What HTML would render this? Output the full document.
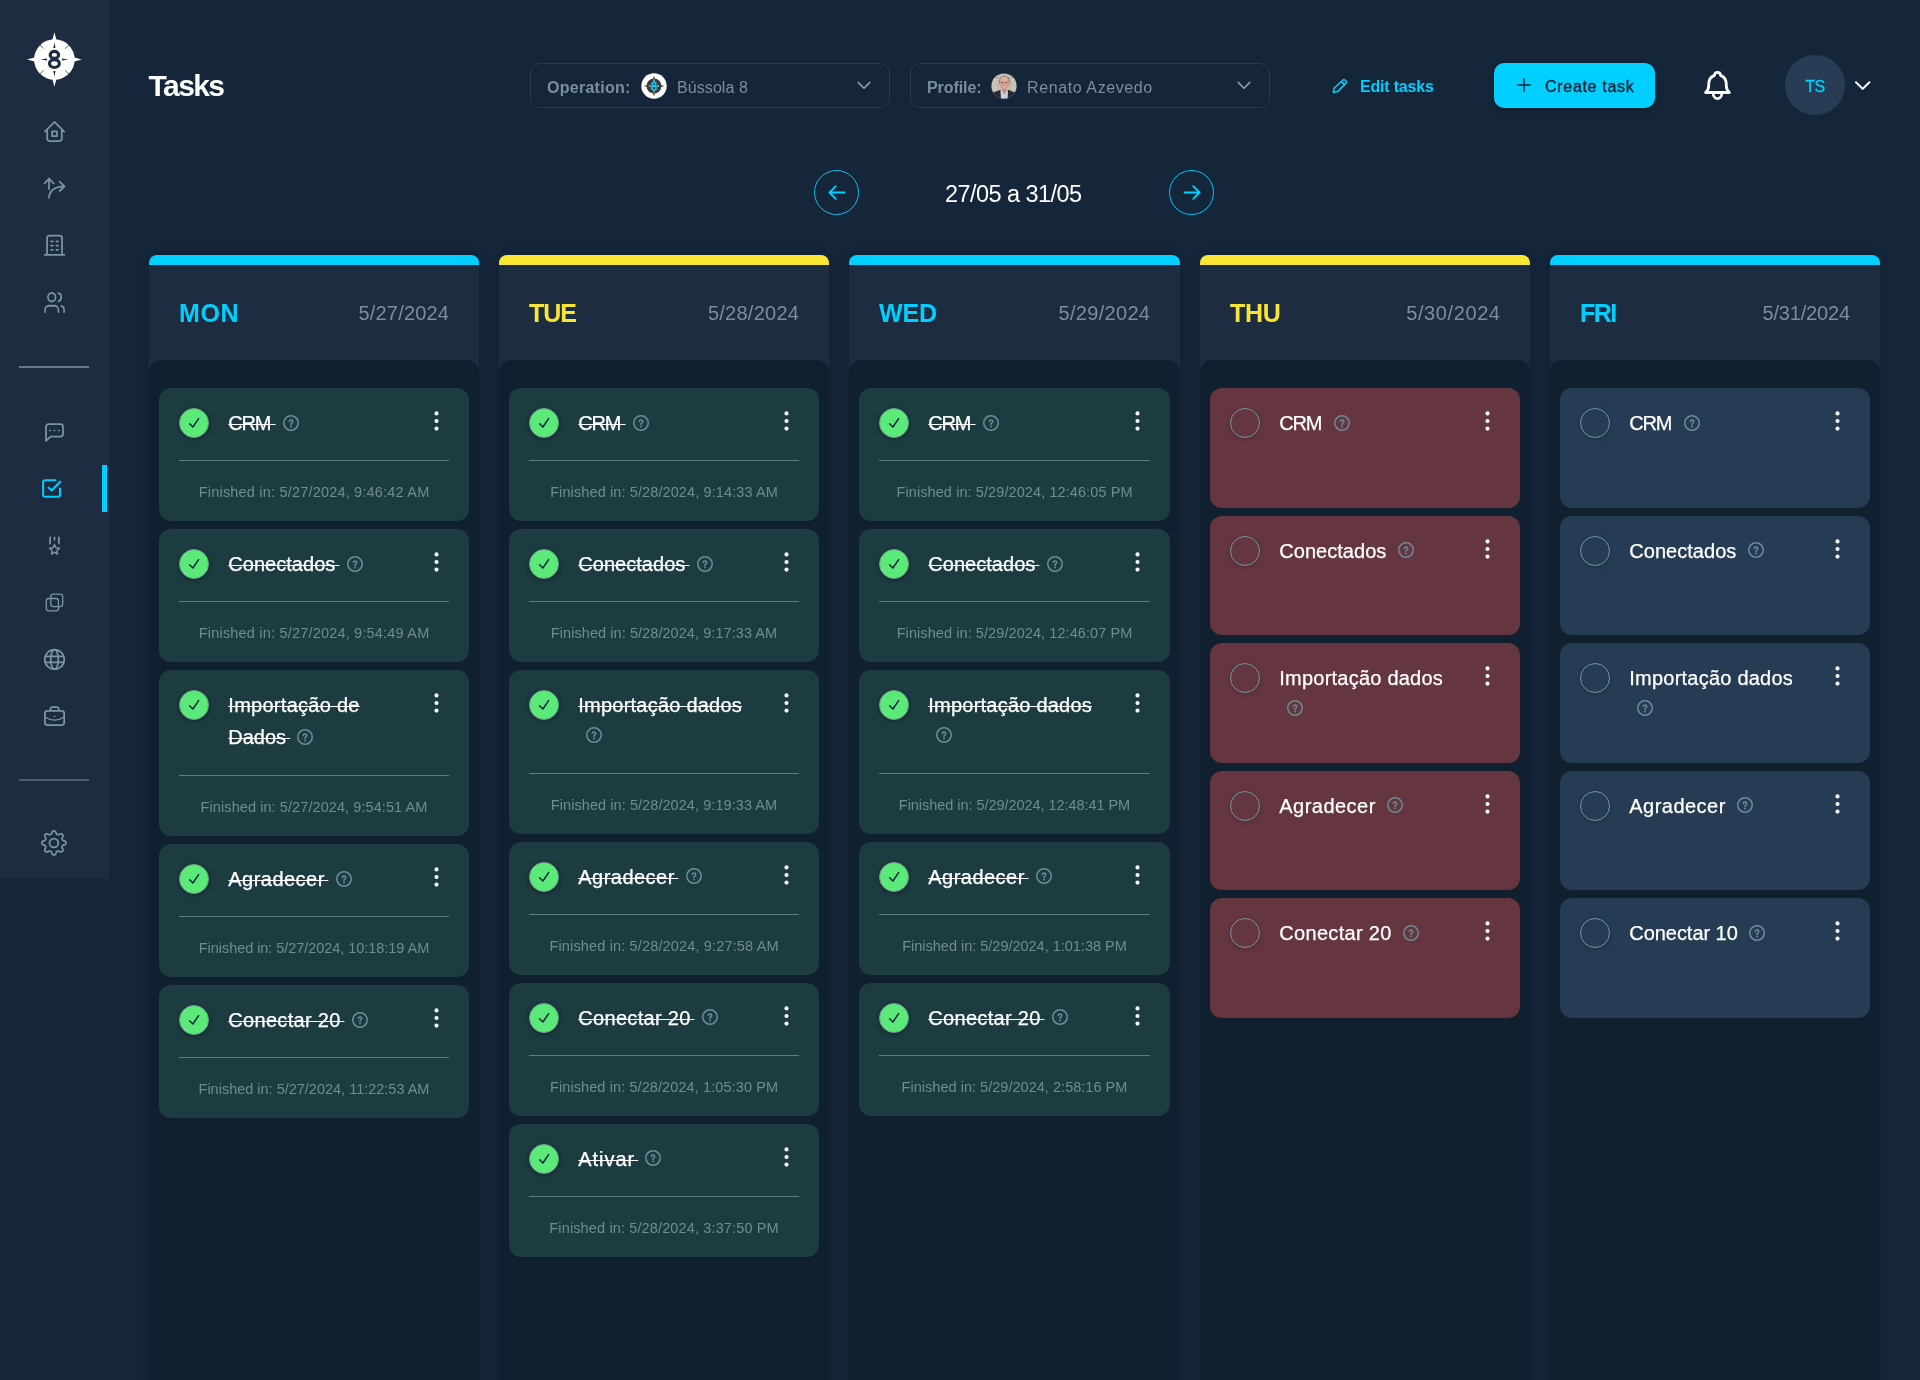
<!DOCTYPE html><html><head><meta charset="utf-8"><title>Tasks</title><style>
*{box-sizing:border-box}
html,body{margin:0;padding:0}
body{width:1920px;height:1380px;overflow:hidden;background:#15253a;font-family:"Liberation Sans",sans-serif;position:relative;color:#fff}
.abs{position:absolute}
.sidebar{position:absolute;left:0;top:0;width:109px;height:879px;background:#1d2c40}
.title{position:absolute;left:148.6px;top:68.5px;font-size:30px;font-weight:700;letter-spacing:-1.6px;line-height:34px;white-space:pre}
.sel{position:absolute;top:63px;height:45px;width:360px;border:1px solid #263a52;border-radius:10px;background:#15263a}
.sel .lab{position:absolute;left:16px;top:13.5px;font-size:16px;line-height:20px;font-weight:700;color:#7a8f9b;white-space:pre}
.sel .val{position:absolute;top:13.5px;font-size:16px;line-height:20px;color:#7a8f9b;white-space:pre}
.cols{position:absolute;left:0;top:255px;width:1920px;height:1140px}
.col{position:absolute;top:0;height:1140px;background:#1d2c40;border-radius:8px 8px 0 0;box-shadow:0 0 10px rgba(0,0,0,.16)}
.bar{height:10px;border-radius:8px 8px 0 0}
.day{position:absolute;left:30px;top:44px;font-size:25px;line-height:28px;font-weight:700;white-space:pre}
.date{position:absolute;right:30px;top:46px;font-size:20px;line-height:24px;color:#7a8f9b;white-space:pre}
.cbody{position:absolute;left:0;right:0;top:105px;bottom:0;background:#10202e;border-radius:12px 12px 0 0;padding:28px 10px 0 10px}
.card{position:relative;border-radius:12px;margin-bottom:8px}
.card.g{background:#1c3c41} .card.r{background:#663640} .card.b{background:#263c54}
.chk{position:absolute;left:20px;top:20px;width:30px;height:30px;border-radius:50%}
.chk.on{background:#5bea7a;border:1px solid #6e9a8a;box-shadow:0 1px 4px rgba(0,0,0,.35)}
.chk.off{border:1px solid #6d97a3;box-shadow:0 1px 4px rgba(0,0,0,.25)}
.tt{position:absolute;left:69.3px;top:19px;width:190px;font-size:20px;line-height:32px;white-space:pre;-webkit-text-stroke:.25px #fff}
.tt s{text-decoration-thickness:1.25px}
.hp{display:inline-block;vertical-align:middle;width:16px;height:16px;position:relative;top:-2px}
.dots{position:absolute;right:28px;top:22px;width:9px;height:22px}
.dv{position:absolute;left:20px;right:20px;height:1px;background:#5f7e84}
.fin{position:absolute;left:0;right:0;text-align:center;font-size:14.5px;line-height:18px;color:#6f8c91;white-space:pre}
</style></head><body><div id="root" style="position:absolute;left:0;top:0;width:1920px;height:1380px;will-change:transform"><div class="sidebar"></div><svg class="abs" style="left:0;top:0" width="109" height="879" viewBox="0 0 109 879" fill="none" stroke="#7a96a0" stroke-width="1.75" stroke-linecap="round" stroke-linejoin="round"><g stroke="none" fill="#fff"><circle cx="54.4" cy="59.5" r="20.3"/><path d="M54.4 32.3 L56.6 40.5 L52.199999999999996 40.5Z M54.4 86.7 L56.6 78.5 L52.199999999999996 78.5Z M27.0 59.5 L35.4 57.3 L35.4 61.7Z M81.8 59.5 L73.4 57.3 L73.4 61.7Z"/></g><g stroke="none" fill="#1d2c40"><path d="M54.4 42.5 L55.5 48.0 L53.3 48.0Z M54.4 76.5 L55.5 71.0 L53.3 71.0Z M40.4 59.5 L46.9 58.4 L46.9 60.6Z M68.4 59.5 L61.9 58.4 L61.9 60.6Z"/></g><g stroke="#1d2c40" stroke-width="0.75"><path d="M65.6 70.7 L69.0 74.1"/><path d="M65.6 48.3 L69.0 44.9"/><path d="M43.2 70.7 L39.8 74.1"/><path d="M43.2 48.3 L39.8 44.9"/></g><g stroke="#1d2c40" stroke-width="3.2" fill="none"><ellipse cx="54.4" cy="54.9" rx="4.2" ry="3.5"/><ellipse cx="54.4" cy="63.6" rx="4.9" ry="3.9"/></g><path d="M44.8 131.6 L54.5 121.9 L64.2 131.6 M47.2 130 V138.6 a2.4 2.4 0 0 0 2.4 2.4 H59.4 a2.4 2.4 0 0 0 2.4 -2.4 V130"/><rect x="52.1" y="131.4" width="4.8" height="4.8"/><path d="M49 189 V178.6 M44.6 183.3 L49 178.6 L53.6 183.3"/><path d="M49 197.8 C49.4 191.5 54 186.6 64.3 186.3 M59.6 181.6 L64.5 186.3 L59.6 191"/><path d="M47.1 254.6 V238 a2.4 2.4 0 0 1 2.4 -2.4 H59.6 a2.4 2.4 0 0 1 2.4 2.4 V254.6 M44.6 254.8 H64.5"/><path d="M51.1 241.3 H52.8 M56.3 241.3 H58"/><path d="M51.1 245.6 H52.8 M56.3 245.6 H58"/><path d="M51.1 249.8 H52.8 M56.3 249.8 H58"/><g transform="translate(43.2 289.8) scale(0.95 1.06)"><path d="M16 21v-2a4 4 0 0 0-4-4H6a4 4 0 0 0-4 4v2"/><circle cx="9" cy="7" r="4"/><path d="M22 21v-2a4 4 0 0 0-3-3.87"/><path d="M16 3.13a4 4 0 0 1 0 7.75"/></g><path d="M19 367 H89" stroke="#7a96a0" stroke-width="1.6" stroke-linecap="butt"/><path d="M46 440.8 V426.6 a2.6 2.6 0 0 1 2.6 -2.6 H60.4 a2.6 2.6 0 0 1 2.6 2.6 V434 a2.6 2.6 0 0 1 -2.6 2.6 H50.6 Z"/><path d="M49.9 430.5 H50.3 M54.3 430.5 H54.7 M58.7 430.5 H59.1" stroke-width="1.7"/><g stroke="#00cfff" stroke-width="2"><path d="M60 488.6 V494.8 a2 2 0 0 1 -2 2 H45.1 a2 2 0 0 1 -2 -2 V482.2 a2 2 0 0 1 2 -2 H55.4"/><path d="M48.7 487.6 L51.6 490.5 L60.2 481.8"/></g><rect x="102" y="465" width="5" height="47" fill="#00cfff" stroke="none"/><path d="M50.1 537.3 V543.6 M54.5 537.3 V539.8 M58.9 537.3 V543.6"/><path d="M54.50 544.50 L55.97 547.78 L59.54 548.16 L56.88 550.57 L57.62 554.09 L54.50 552.30 L51.38 554.09 L52.12 550.57 L49.46 548.16 L53.03 547.78Z" stroke-width="1.4"/><rect x="50.8" y="594.2" width="11.9" height="12.4" rx="2.6" stroke-width="1.3"/><rect x="46.3" y="598.5" width="12.2" height="12.3" rx="2.6" stroke-width="1.3"/><circle cx="54.5" cy="659.4" r="9.75"/><ellipse cx="54.5" cy="659.4" rx="3.8" ry="9.75"/><path d="M45.4 656.4 H63.6 M45.4 662.4 H63.6"/><rect x="44.9" y="710.8" width="19.3" height="14.4" rx="2.6"/><path d="M50.4 710.6 V709.2 a2.2 2.2 0 0 1 2.2 -2.2 H56.6 a2.2 2.2 0 0 1 2.2 2.2 V710.6"/><path d="M45.2 717.2 C51 720.8 58 720.8 63.9 717.2" stroke-width="1.3"/><path d="M54.3 716.5 H54.7" stroke-width="1.6"/><path d="M19 780 H89" stroke="#7a96a0" stroke-width="1" stroke-linecap="butt"/><path d="M65.90 842.90 L65.85 843.37 L65.68 843.83 L65.41 844.26 L65.00 844.66 L64.20 844.95 L63.39 845.18 L62.96 845.45 L62.63 845.74 L62.39 846.03 L62.21 846.34 L62.11 846.69 L62.08 847.07 L62.11 847.50 L62.22 848.00 L62.63 848.73 L62.99 849.51 L63.00 850.08 L62.89 850.58 L62.68 851.02 L62.39 851.39 L62.02 851.68 L61.58 851.89 L61.08 852.00 L60.51 851.99 L59.73 851.63 L59.00 851.22 L58.50 851.11 L58.07 851.08 L57.69 851.11 L57.34 851.21 L57.03 851.39 L56.74 851.63 L56.45 851.96 L56.18 852.39 L55.95 853.20 L55.66 854.00 L55.26 854.41 L54.83 854.68 L54.37 854.85 L53.90 854.90 L53.43 854.85 L52.97 854.68 L52.54 854.41 L52.14 854.00 L51.85 853.20 L51.62 852.39 L51.35 851.96 L51.06 851.63 L50.77 851.39 L50.46 851.21 L50.11 851.11 L49.73 851.08 L49.30 851.11 L48.80 851.22 L48.07 851.63 L47.29 851.99 L46.72 852.00 L46.22 851.89 L45.78 851.68 L45.41 851.39 L45.12 851.02 L44.91 850.58 L44.80 850.08 L44.81 849.51 L45.17 848.73 L45.58 848.00 L45.69 847.50 L45.72 847.07 L45.69 846.69 L45.59 846.34 L45.41 846.03 L45.17 845.74 L44.84 845.45 L44.41 845.18 L43.60 844.95 L42.80 844.66 L42.39 844.26 L42.12 843.83 L41.95 843.37 L41.90 842.90 L41.95 842.43 L42.12 841.97 L42.39 841.54 L42.80 841.14 L43.60 840.85 L44.41 840.62 L44.84 840.35 L45.17 840.06 L45.41 839.77 L45.59 839.46 L45.69 839.11 L45.72 838.73 L45.69 838.30 L45.58 837.80 L45.17 837.07 L44.81 836.29 L44.80 835.72 L44.91 835.22 L45.12 834.78 L45.41 834.41 L45.78 834.12 L46.22 833.91 L46.72 833.80 L47.29 833.81 L48.07 834.17 L48.80 834.58 L49.30 834.69 L49.73 834.72 L50.11 834.69 L50.46 834.59 L50.77 834.41 L51.06 834.17 L51.35 833.84 L51.62 833.41 L51.85 832.60 L52.14 831.80 L52.54 831.39 L52.97 831.12 L53.43 830.95 L53.90 830.90 L54.37 830.95 L54.83 831.12 L55.26 831.39 L55.66 831.80 L55.95 832.60 L56.18 833.41 L56.45 833.84 L56.74 834.17 L57.03 834.41 L57.34 834.59 L57.69 834.69 L58.07 834.72 L58.50 834.69 L59.00 834.58 L59.73 834.17 L60.51 833.81 L61.08 833.80 L61.58 833.91 L62.02 834.12 L62.39 834.41 L62.68 834.78 L62.89 835.22 L63.00 835.72 L62.99 836.29 L62.63 837.07 L62.22 837.80 L62.11 838.30 L62.08 838.73 L62.11 839.11 L62.21 839.46 L62.39 839.77 L62.63 840.06 L62.96 840.35 L63.39 840.62 L64.20 840.85 L65.00 841.14 L65.41 841.54 L65.68 841.97 L65.85 842.43Z"/><circle cx="53.9" cy="842.9" r="4.4"/></svg><div class="title">Tasks</div><div class="sel" style="left:530px"><div class="lab" style="letter-spacing:.27px">Operation:</div>
<svg class="abs" style="left:109.6px;top:8.9px" width="26" height="26" viewBox="0 0 26 26"><circle cx="13" cy="13" r="12.7" fill="#fff"/><path d="M13 2.4 L14.1 6.5 H11.9Z M13 23.6 L14.1 19.5 H11.9Z M2.4 13 L6.5 11.9 V14.1Z M23.6 13 L19.5 11.9 V14.1Z" fill="#3b3b3b"/><circle cx="13" cy="13" r="7.5" fill="#3b3b3b"/><path d="M13 6.8 V8.4 M13 17.6 V19.2 M8.2 13 H10 M16 13 H17.8" stroke="#e8dcd8" stroke-width="1" stroke-linecap="round"/><g fill="none" stroke="#00cfff" stroke-width="1.5"><ellipse cx="13" cy="11" rx="1.9" ry="1.75"/><ellipse cx="13" cy="14.9" rx="2.15" ry="1.95"/></g></svg>
<div class="val" style="left:146px;letter-spacing:.08px">Bússola 8</div>
<svg class="abs" style="left:326px;top:17px" width="14" height="9" viewBox="0 0 14 9" fill="none" stroke="#8ea2ad" stroke-width="1.5" stroke-linecap="round" stroke-linejoin="round"><path d="M1.2 1.4 L7 7.2 L12.8 1.4"/></svg></div><div class="sel" style="left:910px"><div class="lab" style="letter-spacing:-.08px">Profile:</div>
<svg class="abs" style="left:79.5px;top:9px" width="26" height="26" viewBox="0 0 26 26"><defs><clipPath id="av"><circle cx="13" cy="13" r="12.6"/></clipPath></defs><g clip-path="url(#av)"><rect width="26" height="26" fill="#c7c3b5"/><rect x="0" y="4.4" width="26" height="1.2" fill="#a99a86"/><rect x="0" y="5.6" width="26" height="1" fill="#d4d0c4"/><rect x="6.6" y="6.6" width="1" height="14" fill="#b5b1a3"/><rect x="19" y="6.6" width="1" height="14" fill="#b5b1a3"/><ellipse cx="13.4" cy="8.6" rx="5.5" ry="6" fill="#8f8c88"/><ellipse cx="13.3" cy="10.9" rx="4.75" ry="6.5" fill="#d7a08d"/><ellipse cx="13.2" cy="6.2" rx="3.5" ry="2.4" fill="#e1b09d"/><ellipse cx="11.2" cy="9.5" rx="1.4" ry=".7" fill="#6b4038" opacity=".65"/><ellipse cx="15.2" cy="9.5" rx="1.4" ry=".7" fill="#6b4038" opacity=".65"/><path d="M11.6 13.2 Q13.4 14.6 15.2 13.2 Q13.4 13.7 11.6 13.2Z" fill="#f6ecea"/><path d="M0 26 L2.2 19.6 L9 17 L17.6 17 L24 19.6 L26 26Z" fill="#2a2933"/><path d="M9.4 17.2 L17 17.2 L16.6 26 L10 26Z" fill="#c8d2e1"/><path d="M11.3 16.4 L15.4 16.4 L14 21.6 L13 21.6Z" fill="#c4866f"/></g></svg>
<div class="val" style="left:116px;letter-spacing:.6px">Renato Azevedo</div>
<svg class="abs" style="left:326px;top:17px" width="14" height="9" viewBox="0 0 14 9" fill="none" stroke="#8ea2ad" stroke-width="1.5" stroke-linecap="round" stroke-linejoin="round"><path d="M1.2 1.4 L7 7.2 L12.8 1.4"/></svg></div><svg class="abs" style="left:1330px;top:75.5px" width="20" height="20" viewBox="0 0 20 20" fill="none" stroke="#00cfff" stroke-width="1.5" stroke-linecap="round" stroke-linejoin="round"><path d="M12.6 4.2 a1.9 1.9 0 0 1 2.7 0 l.5 .5 a1.9 1.9 0 0 1 0 2.7 L7.6 15.6 L3.3 16.4 L4.1 12.2 Z M11.3 5.6 L14.3 8.6"/></svg>
<div class="abs" style="left:1360px;top:77px;font-size:16px;line-height:20px;font-weight:700;color:#00cfff;letter-spacing:-.2px;white-space:pre">Edit tasks</div><div class="abs" style="left:1494px;top:63px;width:161px;height:45px;border-radius:10px;background:#00cfff;box-shadow:0 2px 6px rgba(0,0,0,.25)"></div>
<svg class="abs" style="left:1516px;top:77px" width="16" height="16" viewBox="0 0 16 16" fill="none" stroke="#15243a" stroke-width="1.5" stroke-linecap="round"><path d="M8 1.8 V14.2 M1.8 8 H14.2"/></svg>
<div class="abs" style="left:1545px;top:77px;font-size:16px;line-height:20px;color:#15243a;letter-spacing:.7px;white-space:pre;-webkit-text-stroke:.35px #15243a">Create task</div><svg class="abs" style="left:1697px;top:65px" width="40" height="40" viewBox="0 0 40 40" fill="none" stroke="#fff" stroke-width="2.8" stroke-linecap="round" stroke-linejoin="round"><path d="M8.6 27.5 H32.4 C30.4 25.7 29.3 24.4 29.3 21 V19.5 C29.3 14.8 27.3 11.8 23.6 10.4 C23.4 8.7 22.1 7.4 20.5 7.4 C18.9 7.4 17.6 8.7 17.4 10.4 C13.7 11.8 11.7 14.8 11.7 19.5 V21 C11.7 24.4 10.6 25.7 8.6 27.5 Z"/><path d="M16.2 28.6 a4.3 5.1 0 0 0 8.6 0" stroke-width="2.7"/></svg><div class="abs" style="left:1785px;top:55px;width:60px;height:60px;border-radius:50%;background:#293c55"></div>
<div class="abs" style="left:1785px;top:77px;width:60px;text-align:center;font-size:16px;line-height:20px;color:#00cfff;letter-spacing:-.4px;-webkit-text-stroke:.3px #00cfff">TS</div>
<svg class="abs" style="left:1853px;top:79px" width="20" height="13" viewBox="0 0 20 13" fill="none" stroke="#fff" stroke-width="2" stroke-linecap="round" stroke-linejoin="round"><path d="M3 3.2 L9.7 9.9 L16.4 3.2"/></svg><div class="abs" style="left:814px;top:169.6px;width:45.4px;height:45.4px;border-radius:50%;border:1.5px solid #00c4f4"></div><svg class="abs" style="left:826.7px;top:181px" width="20" height="23" viewBox="0 0 20 23" fill="none" stroke="#00cfff" stroke-width="1.8" stroke-linecap="round" stroke-linejoin="round"><path d="M17.5 11.5 H2.6 M8.8 5.2 L2.4 11.5 L8.8 17.8"/></svg><div class="abs" style="left:1169px;top:169.6px;width:45.4px;height:45.4px;border-radius:50%;border:1.5px solid #00c4f4"></div><svg class="abs" style="left:1181.7px;top:181px" width="20" height="23" viewBox="0 0 20 23" fill="none" stroke="#00cfff" stroke-width="1.8" stroke-linecap="round" stroke-linejoin="round"><path d="M2.5 11.5 H17.4 M11.2 5.2 L17.6 11.5 L11.2 17.8"/></svg><div class="abs" style="left:945px;top:180px;font-size:23.5px;line-height:28px;letter-spacing:-.55px;white-space:pre">27/05 a 31/05</div><div class="cols"><div class="col" style="left:149px;width:330px"><div class="bar" style="background:#00cfff"></div><div class="day" style="color:#00cfff;letter-spacing:0.573px">MON</div><div class="date" style="letter-spacing:0.189px;margin-right:-0.189px">5/27/2024</div><div class="cbody"><div class="card g" style="height:133px"><div class="chk on"><svg class="abs" style="left:0;top:0" width="28" height="28" viewBox="0 0 28 28" fill="none" stroke="#13233a" stroke-width="1.5" stroke-linecap="round" stroke-linejoin="round"><path d="M9.6 14.8 L12.9 18 L18.6 9.6"/></svg></div><div class="tt"><s style="letter-spacing:-1.173px">CRM<span style="letter-spacing:-0.327px"> </span></s><span style="display:inline-block;width:7.2px"></span><svg class="hp" viewBox="0 0 16 16" fill="none" stroke="#6c8e96" stroke-width="1.5" stroke-linecap="round" stroke-linejoin="round"><circle cx="8" cy="8" r="7.25"/><path d="M6.3 6.5 C6.3 5.4 7.2 4.9 8.05 4.9 C9 4.9 9.75 5.5 9.75 6.4 C9.75 7.8 8 7.9 8 9.6" stroke-width="1.45"/><path d="M8 11.5 v.05" stroke-width="1.8"/></svg></div><svg class="dots" viewBox="0 0 9 22"><circle cx="4.5" cy="3.4" r="2.05" fill="#fff"/><circle cx="4.5" cy="11" r="2.05" fill="#fff"/><circle cx="4.5" cy="18.6" r="2.05" fill="#fff"/></svg><div class="dv" style="top:72px"></div><div class="fin" style="top:95.1px;letter-spacing:0.193px;padding-left:0.193px">Finished in: 5/27/2024, 9:46:42 AM</div></div><div class="card g" style="height:133px"><div class="chk on"><svg class="abs" style="left:0;top:0" width="28" height="28" viewBox="0 0 28 28" fill="none" stroke="#13233a" stroke-width="1.5" stroke-linecap="round" stroke-linejoin="round"><path d="M9.6 14.8 L12.9 18 L18.6 9.6"/></svg></div><div class="tt"><s style="letter-spacing:0.028px">Conectados<span style="letter-spacing:-1.528px"> </span></s><span style="display:inline-block;width:7.2px"></span><svg class="hp" viewBox="0 0 16 16" fill="none" stroke="#6c8e96" stroke-width="1.5" stroke-linecap="round" stroke-linejoin="round"><circle cx="8" cy="8" r="7.25"/><path d="M6.3 6.5 C6.3 5.4 7.2 4.9 8.05 4.9 C9 4.9 9.75 5.5 9.75 6.4 C9.75 7.8 8 7.9 8 9.6" stroke-width="1.45"/><path d="M8 11.5 v.05" stroke-width="1.8"/></svg></div><svg class="dots" viewBox="0 0 9 22"><circle cx="4.5" cy="3.4" r="2.05" fill="#fff"/><circle cx="4.5" cy="11" r="2.05" fill="#fff"/><circle cx="4.5" cy="18.6" r="2.05" fill="#fff"/></svg><div class="dv" style="top:72px"></div><div class="fin" style="top:95.1px;letter-spacing:0.193px;padding-left:0.193px">Finished in: 5/27/2024, 9:54:49 AM</div></div><div class="card g" style="height:166px"><div class="chk on"><svg class="abs" style="left:0;top:0" width="28" height="28" viewBox="0 0 28 28" fill="none" stroke="#13233a" stroke-width="1.5" stroke-linecap="round" stroke-linejoin="round"><path d="M9.6 14.8 L12.9 18 L18.6 9.6"/></svg></div><div class="tt"><s style="letter-spacing:0.278px">Importação de</s><br><s>Dados<span style="letter-spacing:-1.5px"> </span></s><span style="display:inline-block;width:7.2px"></span><svg class="hp" viewBox="0 0 16 16" fill="none" stroke="#6c8e96" stroke-width="1.5" stroke-linecap="round" stroke-linejoin="round"><circle cx="8" cy="8" r="7.25"/><path d="M6.3 6.5 C6.3 5.4 7.2 4.9 8.05 4.9 C9 4.9 9.75 5.5 9.75 6.4 C9.75 7.8 8 7.9 8 9.6" stroke-width="1.45"/><path d="M8 11.5 v.05" stroke-width="1.8"/></svg></div><svg class="dots" viewBox="0 0 9 22"><circle cx="4.5" cy="3.4" r="2.05" fill="#fff"/><circle cx="4.5" cy="11" r="2.05" fill="#fff"/><circle cx="4.5" cy="18.6" r="2.05" fill="#fff"/></svg><div class="dv" style="top:105.3px"></div><div class="fin" style="top:128.1px;letter-spacing:0.081px;padding-left:0.081px">Finished in: 5/27/2024, 9:54:51 AM</div></div><div class="card g" style="height:133px"><div class="chk on"><svg class="abs" style="left:0;top:0" width="28" height="28" viewBox="0 0 28 28" fill="none" stroke="#13233a" stroke-width="1.5" stroke-linecap="round" stroke-linejoin="round"><path d="M9.6 14.8 L12.9 18 L18.6 9.6"/></svg></div><div class="tt"><s style="letter-spacing:0.465px">Agradecer<span style="letter-spacing:-1.965px"> </span></s><span style="display:inline-block;width:7.2px"></span><svg class="hp" viewBox="0 0 16 16" fill="none" stroke="#6c8e96" stroke-width="1.5" stroke-linecap="round" stroke-linejoin="round"><circle cx="8" cy="8" r="7.25"/><path d="M6.3 6.5 C6.3 5.4 7.2 4.9 8.05 4.9 C9 4.9 9.75 5.5 9.75 6.4 C9.75 7.8 8 7.9 8 9.6" stroke-width="1.45"/><path d="M8 11.5 v.05" stroke-width="1.8"/></svg></div><svg class="dots" viewBox="0 0 9 22"><circle cx="4.5" cy="3.4" r="2.05" fill="#fff"/><circle cx="4.5" cy="11" r="2.05" fill="#fff"/><circle cx="4.5" cy="18.6" r="2.05" fill="#fff"/></svg><div class="dv" style="top:72px"></div><div class="fin" style="top:95.1px;letter-spacing:-0.05px;padding-left:0px">Finished in: 5/27/2024, 10:18:19 AM</div></div><div class="card g" style="height:133px"><div class="chk on"><svg class="abs" style="left:0;top:0" width="28" height="28" viewBox="0 0 28 28" fill="none" stroke="#13233a" stroke-width="1.5" stroke-linecap="round" stroke-linejoin="round"><path d="M9.6 14.8 L12.9 18 L18.6 9.6"/></svg></div><div class="tt"><s style="letter-spacing:0.313px">Conectar 20<span style="letter-spacing:-1.813px"> </span></s><span style="display:inline-block;width:7.2px"></span><svg class="hp" viewBox="0 0 16 16" fill="none" stroke="#6c8e96" stroke-width="1.5" stroke-linecap="round" stroke-linejoin="round"><circle cx="8" cy="8" r="7.25"/><path d="M6.3 6.5 C6.3 5.4 7.2 4.9 8.05 4.9 C9 4.9 9.75 5.5 9.75 6.4 C9.75 7.8 8 7.9 8 9.6" stroke-width="1.45"/><path d="M8 11.5 v.05" stroke-width="1.8"/></svg></div><svg class="dots" viewBox="0 0 9 22"><circle cx="4.5" cy="3.4" r="2.05" fill="#fff"/><circle cx="4.5" cy="11" r="2.05" fill="#fff"/><circle cx="4.5" cy="18.6" r="2.05" fill="#fff"/></svg><div class="dv" style="top:72px"></div><div class="fin" style="top:95.1px;letter-spacing:-0.006px;padding-left:0px">Finished in: 5/27/2024, 11:22:53 AM</div></div></div></div><div class="col" style="left:499px;width:330px"><div class="bar" style="background:#f9e634"></div><div class="day" style="color:#f9e634;letter-spacing:-1.062px">TUE</div><div class="date" style="letter-spacing:0.264px;margin-right:-0.264px">5/28/2024</div><div class="cbody"><div class="card g" style="height:133px"><div class="chk on"><svg class="abs" style="left:0;top:0" width="28" height="28" viewBox="0 0 28 28" fill="none" stroke="#13233a" stroke-width="1.5" stroke-linecap="round" stroke-linejoin="round"><path d="M9.6 14.8 L12.9 18 L18.6 9.6"/></svg></div><div class="tt"><s style="letter-spacing:-1.173px">CRM<span style="letter-spacing:-0.327px"> </span></s><span style="display:inline-block;width:7.2px"></span><svg class="hp" viewBox="0 0 16 16" fill="none" stroke="#6c8e96" stroke-width="1.5" stroke-linecap="round" stroke-linejoin="round"><circle cx="8" cy="8" r="7.25"/><path d="M6.3 6.5 C6.3 5.4 7.2 4.9 8.05 4.9 C9 4.9 9.75 5.5 9.75 6.4 C9.75 7.8 8 7.9 8 9.6" stroke-width="1.45"/><path d="M8 11.5 v.05" stroke-width="1.8"/></svg></div><svg class="dots" viewBox="0 0 9 22"><circle cx="4.5" cy="3.4" r="2.05" fill="#fff"/><circle cx="4.5" cy="11" r="2.05" fill="#fff"/><circle cx="4.5" cy="18.6" r="2.05" fill="#fff"/></svg><div class="dv" style="top:72px"></div><div class="fin" style="top:95.1px;letter-spacing:0.108px;padding-left:0.108px">Finished in: 5/28/2024, 9:14:33 AM</div></div><div class="card g" style="height:133px"><div class="chk on"><svg class="abs" style="left:0;top:0" width="28" height="28" viewBox="0 0 28 28" fill="none" stroke="#13233a" stroke-width="1.5" stroke-linecap="round" stroke-linejoin="round"><path d="M9.6 14.8 L12.9 18 L18.6 9.6"/></svg></div><div class="tt"><s style="letter-spacing:0.028px">Conectados<span style="letter-spacing:-1.528px"> </span></s><span style="display:inline-block;width:7.2px"></span><svg class="hp" viewBox="0 0 16 16" fill="none" stroke="#6c8e96" stroke-width="1.5" stroke-linecap="round" stroke-linejoin="round"><circle cx="8" cy="8" r="7.25"/><path d="M6.3 6.5 C6.3 5.4 7.2 4.9 8.05 4.9 C9 4.9 9.75 5.5 9.75 6.4 C9.75 7.8 8 7.9 8 9.6" stroke-width="1.45"/><path d="M8 11.5 v.05" stroke-width="1.8"/></svg></div><svg class="dots" viewBox="0 0 9 22"><circle cx="4.5" cy="3.4" r="2.05" fill="#fff"/><circle cx="4.5" cy="11" r="2.05" fill="#fff"/><circle cx="4.5" cy="18.6" r="2.05" fill="#fff"/></svg><div class="dv" style="top:72px"></div><div class="fin" style="top:95.1px;letter-spacing:0.066px;padding-left:0.066px">Finished in: 5/28/2024, 9:17:33 AM</div></div><div class="card g" style="height:163.5px"><div class="chk on"><svg class="abs" style="left:0;top:0" width="28" height="28" viewBox="0 0 28 28" fill="none" stroke="#13233a" stroke-width="1.5" stroke-linecap="round" stroke-linejoin="round"><path d="M9.6 14.8 L12.9 18 L18.6 9.6"/></svg></div><div class="tt"><s style="letter-spacing:0.226px">Importação dados</s><br><span style="display:inline-block;width:7.2px"></span><span style="position:relative;top:-2px;left:.6px"><svg class="hp" viewBox="0 0 16 16" fill="none" stroke="#6c8e96" stroke-width="1.5" stroke-linecap="round" stroke-linejoin="round"><circle cx="8" cy="8" r="7.25"/><path d="M6.3 6.5 C6.3 5.4 7.2 4.9 8.05 4.9 C9 4.9 9.75 5.5 9.75 6.4 C9.75 7.8 8 7.9 8 9.6" stroke-width="1.45"/><path d="M8 11.5 v.05" stroke-width="1.8"/></svg></span></div><svg class="dots" viewBox="0 0 9 22"><circle cx="4.5" cy="3.4" r="2.05" fill="#fff"/><circle cx="4.5" cy="11" r="2.05" fill="#fff"/><circle cx="4.5" cy="18.6" r="2.05" fill="#fff"/></svg><div class="dv" style="top:102.8px"></div><div class="fin" style="top:125.6px;letter-spacing:0.066px;padding-left:0.066px">Finished in: 5/28/2024, 9:19:33 AM</div></div><div class="card g" style="height:133px"><div class="chk on"><svg class="abs" style="left:0;top:0" width="28" height="28" viewBox="0 0 28 28" fill="none" stroke="#13233a" stroke-width="1.5" stroke-linecap="round" stroke-linejoin="round"><path d="M9.6 14.8 L12.9 18 L18.6 9.6"/></svg></div><div class="tt"><s style="letter-spacing:0.465px">Agradecer<span style="letter-spacing:-1.965px"> </span></s><span style="display:inline-block;width:7.2px"></span><svg class="hp" viewBox="0 0 16 16" fill="none" stroke="#6c8e96" stroke-width="1.5" stroke-linecap="round" stroke-linejoin="round"><circle cx="8" cy="8" r="7.25"/><path d="M6.3 6.5 C6.3 5.4 7.2 4.9 8.05 4.9 C9 4.9 9.75 5.5 9.75 6.4 C9.75 7.8 8 7.9 8 9.6" stroke-width="1.45"/><path d="M8 11.5 v.05" stroke-width="1.8"/></svg></div><svg class="dots" viewBox="0 0 9 22"><circle cx="4.5" cy="3.4" r="2.05" fill="#fff"/><circle cx="4.5" cy="11" r="2.05" fill="#fff"/><circle cx="4.5" cy="18.6" r="2.05" fill="#fff"/></svg><div class="dv" style="top:72px"></div><div class="fin" style="top:95.1px;letter-spacing:0.151px;padding-left:0.151px">Finished in: 5/28/2024, 9:27:58 AM</div></div><div class="card g" style="height:133px"><div class="chk on"><svg class="abs" style="left:0;top:0" width="28" height="28" viewBox="0 0 28 28" fill="none" stroke="#13233a" stroke-width="1.5" stroke-linecap="round" stroke-linejoin="round"><path d="M9.6 14.8 L12.9 18 L18.6 9.6"/></svg></div><div class="tt"><s style="letter-spacing:0.313px">Conectar 20<span style="letter-spacing:-1.813px"> </span></s><span style="display:inline-block;width:7.2px"></span><svg class="hp" viewBox="0 0 16 16" fill="none" stroke="#6c8e96" stroke-width="1.5" stroke-linecap="round" stroke-linejoin="round"><circle cx="8" cy="8" r="7.25"/><path d="M6.3 6.5 C6.3 5.4 7.2 4.9 8.05 4.9 C9 4.9 9.75 5.5 9.75 6.4 C9.75 7.8 8 7.9 8 9.6" stroke-width="1.45"/><path d="M8 11.5 v.05" stroke-width="1.8"/></svg></div><svg class="dots" viewBox="0 0 9 22"><circle cx="4.5" cy="3.4" r="2.05" fill="#fff"/><circle cx="4.5" cy="11" r="2.05" fill="#fff"/><circle cx="4.5" cy="18.6" r="2.05" fill="#fff"/></svg><div class="dv" style="top:72px"></div><div class="fin" style="top:95.1px;letter-spacing:0.096px;padding-left:0.096px">Finished in: 5/28/2024, 1:05:30 PM</div></div><div class="card g" style="height:133px"><div class="chk on"><svg class="abs" style="left:0;top:0" width="28" height="28" viewBox="0 0 28 28" fill="none" stroke="#13233a" stroke-width="1.5" stroke-linecap="round" stroke-linejoin="round"><path d="M9.6 14.8 L12.9 18 L18.6 9.6"/></svg></div><div class="tt"><s style="letter-spacing:0.955px">Ativar<span style="letter-spacing:-2.455px"> </span></s><span style="display:inline-block;width:7.2px"></span><svg class="hp" viewBox="0 0 16 16" fill="none" stroke="#6c8e96" stroke-width="1.5" stroke-linecap="round" stroke-linejoin="round"><circle cx="8" cy="8" r="7.25"/><path d="M6.3 6.5 C6.3 5.4 7.2 4.9 8.05 4.9 C9 4.9 9.75 5.5 9.75 6.4 C9.75 7.8 8 7.9 8 9.6" stroke-width="1.45"/><path d="M8 11.5 v.05" stroke-width="1.8"/></svg></div><svg class="dots" viewBox="0 0 9 22"><circle cx="4.5" cy="3.4" r="2.05" fill="#fff"/><circle cx="4.5" cy="11" r="2.05" fill="#fff"/><circle cx="4.5" cy="18.6" r="2.05" fill="#fff"/></svg><div class="dv" style="top:72px"></div><div class="fin" style="top:95.1px;letter-spacing:0.133px;padding-left:0.133px">Finished in: 5/28/2024, 3:37:50 PM</div></div></div></div><div class="col" style="left:849px;width:331px"><div class="bar" style="background:#00cfff"></div><div class="day" style="color:#00cfff;letter-spacing:-0.077px">WED</div><div class="date" style="letter-spacing:0.314px;margin-right:-0.314px">5/29/2024</div><div class="cbody"><div class="card g" style="height:133px"><div class="chk on"><svg class="abs" style="left:0;top:0" width="28" height="28" viewBox="0 0 28 28" fill="none" stroke="#13233a" stroke-width="1.5" stroke-linecap="round" stroke-linejoin="round"><path d="M9.6 14.8 L12.9 18 L18.6 9.6"/></svg></div><div class="tt"><s style="letter-spacing:-1.173px">CRM<span style="letter-spacing:-0.327px"> </span></s><span style="display:inline-block;width:7.2px"></span><svg class="hp" viewBox="0 0 16 16" fill="none" stroke="#6c8e96" stroke-width="1.5" stroke-linecap="round" stroke-linejoin="round"><circle cx="8" cy="8" r="7.25"/><path d="M6.3 6.5 C6.3 5.4 7.2 4.9 8.05 4.9 C9 4.9 9.75 5.5 9.75 6.4 C9.75 7.8 8 7.9 8 9.6" stroke-width="1.45"/><path d="M8 11.5 v.05" stroke-width="1.8"/></svg></div><svg class="dots" viewBox="0 0 9 22"><circle cx="4.5" cy="3.4" r="2.05" fill="#fff"/><circle cx="4.5" cy="11" r="2.05" fill="#fff"/><circle cx="4.5" cy="18.6" r="2.05" fill="#fff"/></svg><div class="dv" style="top:72px"></div><div class="fin" style="top:95.1px;letter-spacing:0.089px;padding-left:0.089px">Finished in: 5/29/2024, 12:46:05 PM</div></div><div class="card g" style="height:133px"><div class="chk on"><svg class="abs" style="left:0;top:0" width="28" height="28" viewBox="0 0 28 28" fill="none" stroke="#13233a" stroke-width="1.5" stroke-linecap="round" stroke-linejoin="round"><path d="M9.6 14.8 L12.9 18 L18.6 9.6"/></svg></div><div class="tt"><s style="letter-spacing:0.028px">Conectados<span style="letter-spacing:-1.528px"> </span></s><span style="display:inline-block;width:7.2px"></span><svg class="hp" viewBox="0 0 16 16" fill="none" stroke="#6c8e96" stroke-width="1.5" stroke-linecap="round" stroke-linejoin="round"><circle cx="8" cy="8" r="7.25"/><path d="M6.3 6.5 C6.3 5.4 7.2 4.9 8.05 4.9 C9 4.9 9.75 5.5 9.75 6.4 C9.75 7.8 8 7.9 8 9.6" stroke-width="1.45"/><path d="M8 11.5 v.05" stroke-width="1.8"/></svg></div><svg class="dots" viewBox="0 0 9 22"><circle cx="4.5" cy="3.4" r="2.05" fill="#fff"/><circle cx="4.5" cy="11" r="2.05" fill="#fff"/><circle cx="4.5" cy="18.6" r="2.05" fill="#fff"/></svg><div class="dv" style="top:72px"></div><div class="fin" style="top:95.1px;letter-spacing:0.077px;padding-left:0.077px">Finished in: 5/29/2024, 12:46:07 PM</div></div><div class="card g" style="height:163.5px"><div class="chk on"><svg class="abs" style="left:0;top:0" width="28" height="28" viewBox="0 0 28 28" fill="none" stroke="#13233a" stroke-width="1.5" stroke-linecap="round" stroke-linejoin="round"><path d="M9.6 14.8 L12.9 18 L18.6 9.6"/></svg></div><div class="tt"><s style="letter-spacing:0.226px">Importação dados</s><br><span style="display:inline-block;width:7.2px"></span><span style="position:relative;top:-2px;left:.6px"><svg class="hp" viewBox="0 0 16 16" fill="none" stroke="#6c8e96" stroke-width="1.5" stroke-linecap="round" stroke-linejoin="round"><circle cx="8" cy="8" r="7.25"/><path d="M6.3 6.5 C6.3 5.4 7.2 4.9 8.05 4.9 C9 4.9 9.75 5.5 9.75 6.4 C9.75 7.8 8 7.9 8 9.6" stroke-width="1.45"/><path d="M8 11.5 v.05" stroke-width="1.8"/></svg></span></div><svg class="dots" viewBox="0 0 9 22"><circle cx="4.5" cy="3.4" r="2.05" fill="#fff"/><circle cx="4.5" cy="11" r="2.05" fill="#fff"/><circle cx="4.5" cy="18.6" r="2.05" fill="#fff"/></svg><div class="dv" style="top:102.8px"></div><div class="fin" style="top:125.6px;letter-spacing:-0.047px;padding-left:0px">Finished in: 5/29/2024, 12:48:41 PM</div></div><div class="card g" style="height:133px"><div class="chk on"><svg class="abs" style="left:0;top:0" width="28" height="28" viewBox="0 0 28 28" fill="none" stroke="#13233a" stroke-width="1.5" stroke-linecap="round" stroke-linejoin="round"><path d="M9.6 14.8 L12.9 18 L18.6 9.6"/></svg></div><div class="tt"><s style="letter-spacing:0.465px">Agradecer<span style="letter-spacing:-1.965px"> </span></s><span style="display:inline-block;width:7.2px"></span><svg class="hp" viewBox="0 0 16 16" fill="none" stroke="#6c8e96" stroke-width="1.5" stroke-linecap="round" stroke-linejoin="round"><circle cx="8" cy="8" r="7.25"/><path d="M6.3 6.5 C6.3 5.4 7.2 4.9 8.05 4.9 C9 4.9 9.75 5.5 9.75 6.4 C9.75 7.8 8 7.9 8 9.6" stroke-width="1.45"/><path d="M8 11.5 v.05" stroke-width="1.8"/></svg></div><svg class="dots" viewBox="0 0 9 22"><circle cx="4.5" cy="3.4" r="2.05" fill="#fff"/><circle cx="4.5" cy="11" r="2.05" fill="#fff"/><circle cx="4.5" cy="18.6" r="2.05" fill="#fff"/></svg><div class="dv" style="top:72px"></div><div class="fin" style="top:95.1px;letter-spacing:-0.013px;padding-left:0px">Finished in: 5/29/2024, 1:01:38 PM</div></div><div class="card g" style="height:133px"><div class="chk on"><svg class="abs" style="left:0;top:0" width="28" height="28" viewBox="0 0 28 28" fill="none" stroke="#13233a" stroke-width="1.5" stroke-linecap="round" stroke-linejoin="round"><path d="M9.6 14.8 L12.9 18 L18.6 9.6"/></svg></div><div class="tt"><s style="letter-spacing:0.313px">Conectar 20<span style="letter-spacing:-1.813px"> </span></s><span style="display:inline-block;width:7.2px"></span><svg class="hp" viewBox="0 0 16 16" fill="none" stroke="#6c8e96" stroke-width="1.5" stroke-linecap="round" stroke-linejoin="round"><circle cx="8" cy="8" r="7.25"/><path d="M6.3 6.5 C6.3 5.4 7.2 4.9 8.05 4.9 C9 4.9 9.75 5.5 9.75 6.4 C9.75 7.8 8 7.9 8 9.6" stroke-width="1.45"/><path d="M8 11.5 v.05" stroke-width="1.8"/></svg></div><svg class="dots" viewBox="0 0 9 22"><circle cx="4.5" cy="3.4" r="2.05" fill="#fff"/><circle cx="4.5" cy="11" r="2.05" fill="#fff"/><circle cx="4.5" cy="18.6" r="2.05" fill="#fff"/></svg><div class="dv" style="top:72px"></div><div class="fin" style="top:95.1px;letter-spacing:0.027px;padding-left:0.027px">Finished in: 5/29/2024, 2:58:16 PM</div></div></div></div><div class="col" style="left:1200px;width:330px"><div class="bar" style="background:#f9e634"></div><div class="day" style="color:#f9e634;letter-spacing:-0.308px">THU</div><div class="date" style="letter-spacing:0.602px;margin-right:-0.602px">5/30/2024</div><div class="cbody"><div class="card r" style="height:119.5px"><div class="chk off"></div><div class="tt"><span style="letter-spacing:-1.173px">CRM<span style="letter-spacing:-0.327px"> </span></span><span style="display:inline-block;width:7.2px"></span><svg class="hp" viewBox="0 0 16 16" fill="none" stroke="#6a8a94" stroke-width="1.5" stroke-linecap="round" stroke-linejoin="round"><circle cx="8" cy="8" r="7.25"/><path d="M6.3 6.5 C6.3 5.4 7.2 4.9 8.05 4.9 C9 4.9 9.75 5.5 9.75 6.4 C9.75 7.8 8 7.9 8 9.6" stroke-width="1.45"/><path d="M8 11.5 v.05" stroke-width="1.8"/></svg></div><svg class="dots" viewBox="0 0 9 22"><circle cx="4.5" cy="3.4" r="2.05" fill="#fff"/><circle cx="4.5" cy="11" r="2.05" fill="#fff"/><circle cx="4.5" cy="18.6" r="2.05" fill="#fff"/></svg></div><div class="card r" style="height:119.5px"><div class="chk off"></div><div class="tt"><span style="letter-spacing:0.028px">Conectados<span style="letter-spacing:-1.528px"> </span></span><span style="display:inline-block;width:7.2px"></span><svg class="hp" viewBox="0 0 16 16" fill="none" stroke="#6a8a94" stroke-width="1.5" stroke-linecap="round" stroke-linejoin="round"><circle cx="8" cy="8" r="7.25"/><path d="M6.3 6.5 C6.3 5.4 7.2 4.9 8.05 4.9 C9 4.9 9.75 5.5 9.75 6.4 C9.75 7.8 8 7.9 8 9.6" stroke-width="1.45"/><path d="M8 11.5 v.05" stroke-width="1.8"/></svg></div><svg class="dots" viewBox="0 0 9 22"><circle cx="4.5" cy="3.4" r="2.05" fill="#fff"/><circle cx="4.5" cy="11" r="2.05" fill="#fff"/><circle cx="4.5" cy="18.6" r="2.05" fill="#fff"/></svg></div><div class="card r" style="height:119.5px"><div class="chk off"></div><div class="tt"><span style="letter-spacing:0.226px">Importação dados</span><br><span style="display:inline-block;width:7.2px"></span><span style="position:relative;top:-2px;left:.6px"><svg class="hp" viewBox="0 0 16 16" fill="none" stroke="#6a8a94" stroke-width="1.5" stroke-linecap="round" stroke-linejoin="round"><circle cx="8" cy="8" r="7.25"/><path d="M6.3 6.5 C6.3 5.4 7.2 4.9 8.05 4.9 C9 4.9 9.75 5.5 9.75 6.4 C9.75 7.8 8 7.9 8 9.6" stroke-width="1.45"/><path d="M8 11.5 v.05" stroke-width="1.8"/></svg></span></div><svg class="dots" viewBox="0 0 9 22"><circle cx="4.5" cy="3.4" r="2.05" fill="#fff"/><circle cx="4.5" cy="11" r="2.05" fill="#fff"/><circle cx="4.5" cy="18.6" r="2.05" fill="#fff"/></svg></div><div class="card r" style="height:119.5px"><div class="chk off"></div><div class="tt"><span style="letter-spacing:0.465px">Agradecer<span style="letter-spacing:-1.965px"> </span></span><span style="display:inline-block;width:7.2px"></span><svg class="hp" viewBox="0 0 16 16" fill="none" stroke="#6a8a94" stroke-width="1.5" stroke-linecap="round" stroke-linejoin="round"><circle cx="8" cy="8" r="7.25"/><path d="M6.3 6.5 C6.3 5.4 7.2 4.9 8.05 4.9 C9 4.9 9.75 5.5 9.75 6.4 C9.75 7.8 8 7.9 8 9.6" stroke-width="1.45"/><path d="M8 11.5 v.05" stroke-width="1.8"/></svg></div><svg class="dots" viewBox="0 0 9 22"><circle cx="4.5" cy="3.4" r="2.05" fill="#fff"/><circle cx="4.5" cy="11" r="2.05" fill="#fff"/><circle cx="4.5" cy="18.6" r="2.05" fill="#fff"/></svg></div><div class="card r" style="height:119.5px"><div class="chk off"></div><div class="tt"><span style="letter-spacing:0.313px">Conectar 20<span style="letter-spacing:-1.813px"> </span></span><span style="display:inline-block;width:7.2px"></span><svg class="hp" viewBox="0 0 16 16" fill="none" stroke="#6a8a94" stroke-width="1.5" stroke-linecap="round" stroke-linejoin="round"><circle cx="8" cy="8" r="7.25"/><path d="M6.3 6.5 C6.3 5.4 7.2 4.9 8.05 4.9 C9 4.9 9.75 5.5 9.75 6.4 C9.75 7.8 8 7.9 8 9.6" stroke-width="1.45"/><path d="M8 11.5 v.05" stroke-width="1.8"/></svg></div><svg class="dots" viewBox="0 0 9 22"><circle cx="4.5" cy="3.4" r="2.05" fill="#fff"/><circle cx="4.5" cy="11" r="2.05" fill="#fff"/><circle cx="4.5" cy="18.6" r="2.05" fill="#fff"/></svg></div></div></div><div class="col" style="left:1550px;width:330px"><div class="bar" style="background:#00cfff"></div><div class="day" style="color:#00cfff;letter-spacing:-1.503px">FRI</div><div class="date" style="letter-spacing:-0.186px;margin-right:0.186px">5/31/2024</div><div class="cbody"><div class="card b" style="height:119.5px"><div class="chk off"></div><div class="tt"><span style="letter-spacing:-1.173px">CRM<span style="letter-spacing:-0.327px"> </span></span><span style="display:inline-block;width:7.2px"></span><svg class="hp" viewBox="0 0 16 16" fill="none" stroke="#6b8c9b" stroke-width="1.5" stroke-linecap="round" stroke-linejoin="round"><circle cx="8" cy="8" r="7.25"/><path d="M6.3 6.5 C6.3 5.4 7.2 4.9 8.05 4.9 C9 4.9 9.75 5.5 9.75 6.4 C9.75 7.8 8 7.9 8 9.6" stroke-width="1.45"/><path d="M8 11.5 v.05" stroke-width="1.8"/></svg></div><svg class="dots" viewBox="0 0 9 22"><circle cx="4.5" cy="3.4" r="2.05" fill="#fff"/><circle cx="4.5" cy="11" r="2.05" fill="#fff"/><circle cx="4.5" cy="18.6" r="2.05" fill="#fff"/></svg></div><div class="card b" style="height:119.5px"><div class="chk off"></div><div class="tt"><span style="letter-spacing:0.028px">Conectados<span style="letter-spacing:-1.528px"> </span></span><span style="display:inline-block;width:7.2px"></span><svg class="hp" viewBox="0 0 16 16" fill="none" stroke="#6b8c9b" stroke-width="1.5" stroke-linecap="round" stroke-linejoin="round"><circle cx="8" cy="8" r="7.25"/><path d="M6.3 6.5 C6.3 5.4 7.2 4.9 8.05 4.9 C9 4.9 9.75 5.5 9.75 6.4 C9.75 7.8 8 7.9 8 9.6" stroke-width="1.45"/><path d="M8 11.5 v.05" stroke-width="1.8"/></svg></div><svg class="dots" viewBox="0 0 9 22"><circle cx="4.5" cy="3.4" r="2.05" fill="#fff"/><circle cx="4.5" cy="11" r="2.05" fill="#fff"/><circle cx="4.5" cy="18.6" r="2.05" fill="#fff"/></svg></div><div class="card b" style="height:119.5px"><div class="chk off"></div><div class="tt"><span style="letter-spacing:0.226px">Importação dados</span><br><span style="display:inline-block;width:7.2px"></span><span style="position:relative;top:-2px;left:.6px"><svg class="hp" viewBox="0 0 16 16" fill="none" stroke="#6b8c9b" stroke-width="1.5" stroke-linecap="round" stroke-linejoin="round"><circle cx="8" cy="8" r="7.25"/><path d="M6.3 6.5 C6.3 5.4 7.2 4.9 8.05 4.9 C9 4.9 9.75 5.5 9.75 6.4 C9.75 7.8 8 7.9 8 9.6" stroke-width="1.45"/><path d="M8 11.5 v.05" stroke-width="1.8"/></svg></span></div><svg class="dots" viewBox="0 0 9 22"><circle cx="4.5" cy="3.4" r="2.05" fill="#fff"/><circle cx="4.5" cy="11" r="2.05" fill="#fff"/><circle cx="4.5" cy="18.6" r="2.05" fill="#fff"/></svg></div><div class="card b" style="height:119.5px"><div class="chk off"></div><div class="tt"><span style="letter-spacing:0.465px">Agradecer<span style="letter-spacing:-1.965px"> </span></span><span style="display:inline-block;width:7.2px"></span><svg class="hp" viewBox="0 0 16 16" fill="none" stroke="#6b8c9b" stroke-width="1.5" stroke-linecap="round" stroke-linejoin="round"><circle cx="8" cy="8" r="7.25"/><path d="M6.3 6.5 C6.3 5.4 7.2 4.9 8.05 4.9 C9 4.9 9.75 5.5 9.75 6.4 C9.75 7.8 8 7.9 8 9.6" stroke-width="1.45"/><path d="M8 11.5 v.05" stroke-width="1.8"/></svg></div><svg class="dots" viewBox="0 0 9 22"><circle cx="4.5" cy="3.4" r="2.05" fill="#fff"/><circle cx="4.5" cy="11" r="2.05" fill="#fff"/><circle cx="4.5" cy="18.6" r="2.05" fill="#fff"/></svg></div><div class="card b" style="height:119.5px"><div class="chk off"></div><div class="tt"><span style="letter-spacing:-0.047px">Conectar 10<span style="letter-spacing:-1.453px"> </span></span><span style="display:inline-block;width:7.2px"></span><svg class="hp" viewBox="0 0 16 16" fill="none" stroke="#6b8c9b" stroke-width="1.5" stroke-linecap="round" stroke-linejoin="round"><circle cx="8" cy="8" r="7.25"/><path d="M6.3 6.5 C6.3 5.4 7.2 4.9 8.05 4.9 C9 4.9 9.75 5.5 9.75 6.4 C9.75 7.8 8 7.9 8 9.6" stroke-width="1.45"/><path d="M8 11.5 v.05" stroke-width="1.8"/></svg></div><svg class="dots" viewBox="0 0 9 22"><circle cx="4.5" cy="3.4" r="2.05" fill="#fff"/><circle cx="4.5" cy="11" r="2.05" fill="#fff"/><circle cx="4.5" cy="18.6" r="2.05" fill="#fff"/></svg></div></div></div></div></div></body></html>
